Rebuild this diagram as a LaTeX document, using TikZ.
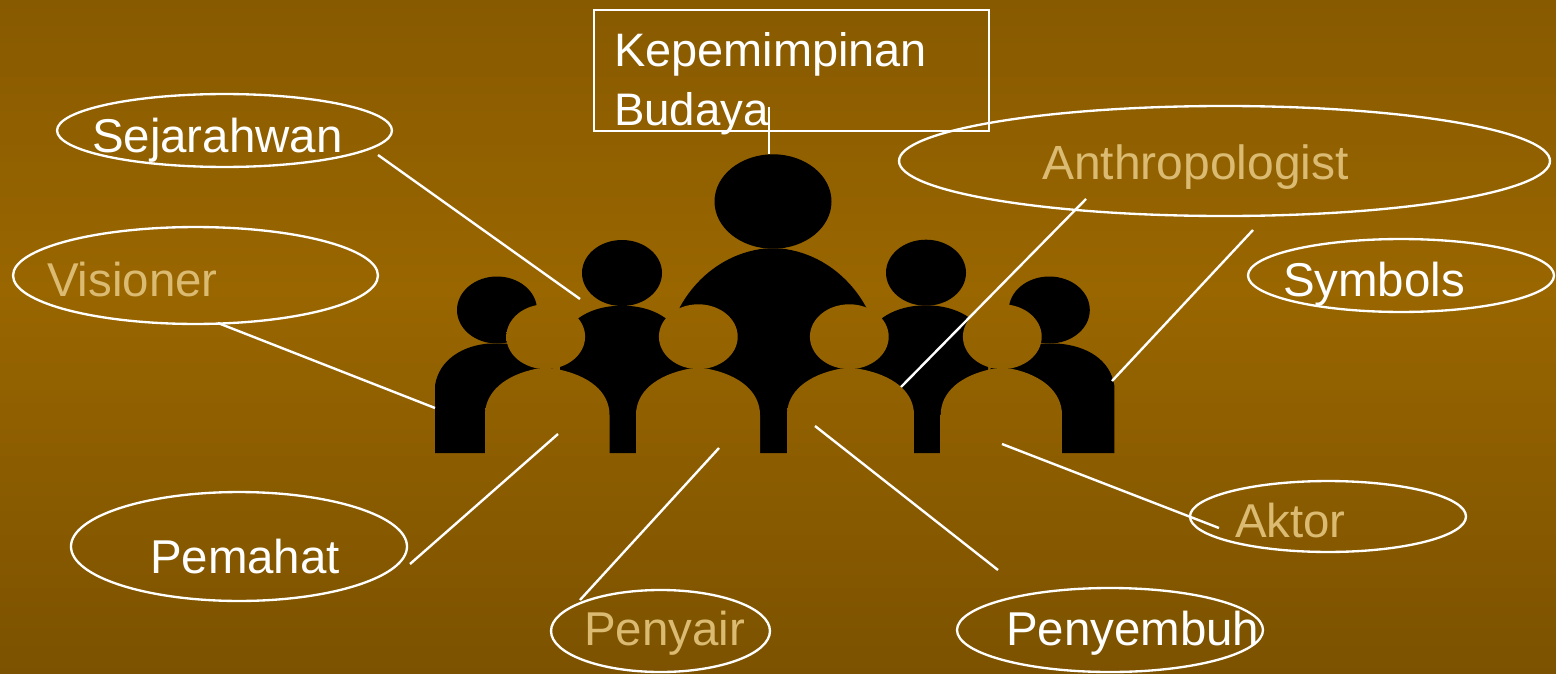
\documentclass[tikz,border=0pt]{standalone}
\usepackage{fontspec}
\setmainfont{Liberation Sans}
\usetikzlibrary{shapes.geometric}
\definecolor{bgtop}{HTML}{885A00}
\definecolor{bgmid}{HTML}{996600}
\definecolor{bgbot}{HTML}{7C5200}
\definecolor{tan}{HTML}{DBBB72}
\pgfdeclareverticalshading{bgsh}{100bp}{color(0bp)=(bgbot); color(25bp)=(bgbot); color(53.5bp)=(bgmid); color(75bp)=(bgtop); color(100bp)=(bgtop)}
\newcommand{\bgrect}{\shade[shading=bgsh] (0,0) rectangle (1556,674);}
% back figure: #1 head cx, #2 head cy, #3 rx, #4 ry, #5 body half width
\newcommand{\backfig}[5]{%
  \fill[black] (#1,#2) ellipse [x radius=#3, y radius=#4];
  \fill[black] (#1-#5,453) -- (#1-#5,#2+#4+42)
    .. controls (#1-#5+4,#2+#4+16) and (#1-#5+28,#2+#4+2) .. (#1-8,#2+#4)
    -- (#1+8,#2+#4)
    .. controls (#1+#5-28,#2+#4+2) and (#1+#5-4,#2+#4+16) .. (#1+#5,#2+#4+42)
    -- (#1+#5,453) -- cycle;}
% front figure cut out of the back ones: #1 head cx, #2 body left, #3 body right
\newcommand{\frontfig}[3]{%
  \begin{scope}
    \clip (#1,336.7) ellipse [x radius=39.4, y radius=32.4];
    \bgrect
  \end{scope}
  \begin{scope}
    \clip (#2,456) -- (#2,415)
      .. controls (#2,392) and (#2+20,375) .. (#1-9,368.7)
      -- (#1+9,368.7)
      .. controls (#3-20,375) and (#3,392) .. (#3,415)
      -- (#3,456) -- cycle;
    \bgrect
  \end{scope}}
\tikzset{
  oval/.style={ellipse,draw=white,line width=1.75pt,inner sep=0pt,outer sep=0pt},
  titlebox/.style={rectangle,draw=white,line width=1.75pt,inner sep=0pt,outer sep=0pt},
  lbl/.style={anchor=base west,inner sep=0pt,outer sep=0pt,font=\fontsize{35.6}{42}\selectfont},
  wlbl/.style={lbl,text=white},
  tlbl/.style={lbl,text=tan},
  link/.style={draw=white,line width=1.8pt}
}
\begin{document}
\begin{tikzpicture}[x=0.75pt,y=-0.75pt]
\useasboundingbox (0,0) rectangle (1556,674);
\bgrect
% silhouettes
\fill[black] (773,201.5) ellipse [x radius=58.5, y radius=47.2];
\fill[black] (668,453) -- (668,350) .. controls (668,310) and (705,255) .. (765,248.5)
  -- (781,248.5) .. controls (841,255) and (878,310) .. (878,350) -- (878,453) -- cycle;
\backfig{497}{310}{40}{33.5}{62}
\backfig{622}{273}{40}{33}{62}
\backfig{926}{272.7}{40}{33}{62}
\backfig{1049.3}{310}{40.5}{33.5}{65}
\frontfig{545.7}{485}{609.5}
\frontfig{698.3}{636}{760}
\frontfig{849.3}{787}{914}
\frontfig{1002.3}{940.7}{1062}
% free ends of connectors
\coordinate (endKep) at (769,154);
\coordinate (startKep) at (769,106.5);
\coordinate (startSej) at (378,155);
\coordinate (endSej) at (580,299);
\coordinate (startVis) at (218,323);
\coordinate (endVis) at (435,408);
\coordinate (startPem) at (410,564);
\coordinate (endPem) at (558,434);
\coordinate (startPen) at (580,600);
\coordinate (endPen) at (719,448);
\coordinate (startSem) at (998,570);
\coordinate (endSem) at (815,426);
\coordinate (startAkt) at (1219,528);
\coordinate (endAkt) at (1002,444);
\coordinate (startAnt) at (1086,199);
\coordinate (endAnt) at (901,387);
\coordinate (startSym) at (1253,230);
\coordinate (endSym) at (1112,381);
% shapes
\node[titlebox,minimum width=296.2pt,minimum height=90.7pt] (kep) at (791.5,70.5) {};
\node[oval,minimum width=251.2pt,minimum height=54.7pt] (sej) at (224.5,130.5) {};
\node[oval,minimum width=273.7pt,minimum height=72.7pt] (vis) at (195.5,275.5) {};
\node[oval,minimum width=252pt,minimum height=81.7pt] (pem) at (239,546.5) {};
\node[oval,minimum width=164.2pt,minimum height=61.5pt] (pen) at (660.5,631) {};
\node[oval,minimum width=229.5pt,minimum height=63pt] (sem) at (1110,630) {};
\node[oval,minimum width=207pt,minimum height=53.2pt] (akt) at (1328,516.5) {};
\node[oval,minimum width=229.5pt,minimum height=54.7pt] (sym) at (1401,275.5) {};
\node[oval,minimum width=488.2pt,minimum height=82.5pt] (ant) at (1224.5,161) {};
% connectors
\draw[link] (startKep) -- (endKep);
\draw[link] (startSej) -- (endSej);
\draw[link] (startVis) -- (endVis);
\draw[link] (startPem) -- (endPem);
\draw[link] (startPen) -- (endPen);
\draw[link] (startSem) -- (endSem);
\draw[link] (startAkt) -- (endAkt);
\draw[link] (startAnt) -- (endAnt);
\draw[link] (startSym) -- (endSym);
% labels
\node[wlbl,font=\fontsize{35.2}{42}\selectfont] (tKep1) at (614,67) {Kepemimpinan};
\node[wlbl,font=\fontsize{34.2}{42}\selectfont] (tKep2) at (614,125.5) {Budaya};
\node[wlbl] (tSej) at (92,152) {Sejarahwan};
\node[tlbl] (tVis) at (47,296) {Visioner};
\node[wlbl] (tPem) at (150,573.5) {Pemahat};
\node[tlbl] (tPen) at (584,645) {Penyair};
\node[wlbl] (tSem) at (1006,645) {Penyembuh};
\node[tlbl] (tAkt) at (1235,537) {Aktor};
\node[wlbl] (tSym) at (1283,296) {Symbols};
\node[tlbl,font=\fontsize{36}{42}\selectfont] (tAnt) at (1042,179.5) {Anthropologist};
\end{tikzpicture}
\end{document}
